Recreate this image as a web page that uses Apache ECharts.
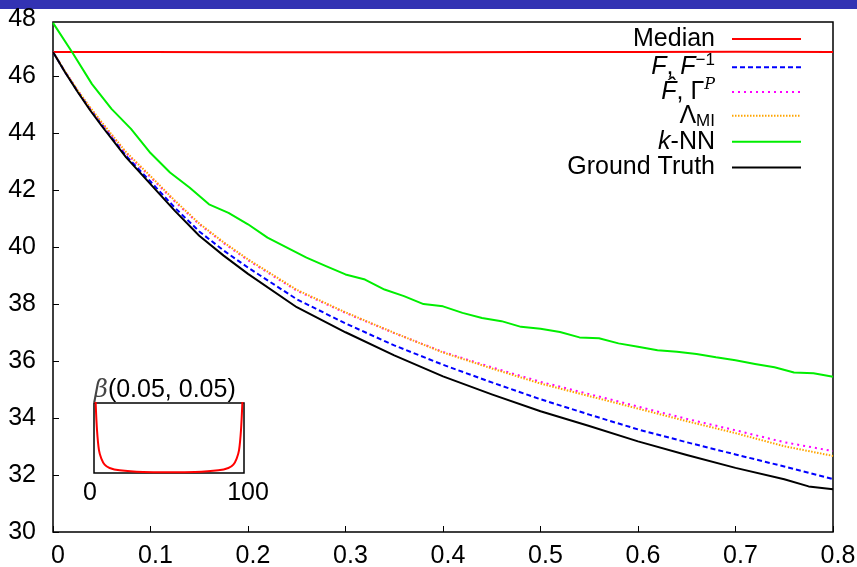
<!DOCTYPE html>
<html><head><meta charset="utf-8">
<script src="https://cdn.jsdelivr.net/npm/echarts@6/dist/echarts.min.js"></script>
<style>html,body{margin:0;padding:0;background:#fff}#c{width:857px;height:567px}</style>
</head><body><div id="c"></div>
<script>
// ---- data ----
const xTickLabels = ['0','0.1','0.2','0.3','0.4','0.5','0.6','0.7','0.8'];
const yTickLabels = ['30','32','34','36','38','40','42','44','46','48'];
const seriesNames = ['Median','F, F^-1','F^, Gamma^P','Lambda_MI','k-NN','Ground Truth'];

const medianX = [0,0.1,0.2,0.3,0.4,0.5,0.6,0.7,0.8];
const medianY = [46.85,46.85,46.84,46.84,46.84,46.85,46.85,46.86,46.85];

const estX = [0,0.0125,0.025,0.0375,0.05,0.075,0.1,0.125,0.15,0.175,0.2,0.25,0.3,0.35,0.4,0.45,0.5,0.55,0.6,0.65,0.7,0.75,0.8];
const invY = [46.85,46.14,45.48,44.87,44.3,43.2,42.3,41.38,40.55,39.88,39.28,38.17,37.32,36.55,35.87,35.25,34.66,34.12,33.6,33.15,32.72,32.3,31.86];
const gammaY = [46.85,46.15,45.5,44.9,44.35,43.3,42.46,41.6,40.8,40.14,39.54,38.47,37.69,36.98,36.32,35.78,35.27,34.84,34.4,33.97,33.57,33.15,32.84];
const lambdaY = [46.85,46.16,45.52,44.93,44.38,43.33,42.49,41.63,40.83,40.17,39.57,38.5,37.71,36.99,36.3,35.74,35.21,34.77,34.33,33.89,33.47,33.01,32.67];

const truthX = [0,0.0125,0.025,0.0375,0.05,0.075,0.1,0.125,0.15,0.175,0.2,0.25,0.3,0.35,0.4,0.45,0.5,0.55,0.6,0.65,0.7,0.75,0.775,0.8];
const truthY = [46.85,46.13,45.46,44.83,44.25,43.15,42.21,41.27,40.40,39.7,39.06,37.89,37.01,36.20,35.46,34.83,34.24,33.72,33.18,32.7,32.25,31.85,31.6,31.5];

const knnX = [0,0.02,0.04,0.06,0.08,0.1,0.12,0.14,0.16,0.18,0.2,0.22,0.24,0.26,0.28,0.3,0.32,0.34,0.36,0.38,0.4,0.42,0.44,0.46,0.48,0.5,0.52,0.54,0.56,0.58,0.6,0.62,0.64,0.66,0.68,0.7,0.72,0.74,0.76,0.78,0.8];
const knnY = [47.87,46.82,45.72,44.85,44.15,43.3,42.62,42.09,41.5,41.2,40.8,40.33,39.98,39.63,39.33,39.04,38.86,38.51,38.28,38.0,37.92,37.69,37.51,37.4,37.2,37.13,37.02,36.83,36.8,36.62,36.5,36.38,36.33,36.25,36.13,36.03,35.9,35.78,35.6,35.57,35.45];

const insetTitle = '(0.05, 0.05)';
const insetX = [0.4,1.1,2,3.3,4.9,7.1,10.4,17.1,32.7,50,67.3,82.9,89.6,92.9,95.1,96.7,98,98.9,99.6];
const insetY = [14,10,6.15,3.27,2.07,1.2,0.72,0.38,0.14,0.1,0.14,0.38,0.72,1.2,2.07,3.27,6.15,10,14];

// ---- chart ----
const zip = (xs, ys) => xs.map((x, i) => [x, ys[i]]);
const SANS = 'Liberation Sans';
const FS = 25;

const richLabels = [
  '{n|Median}{p| }',
  '{i|F}{n|, }{i|F}{sup|\u22121}{p| }',
  '{i|F\u0302}{n|, \u0393}{supi|P}{p| }',
  '{n|\u039B}{sub|MI}{p| }',
  '{i|k}{n|-NN}{p| }',
  '{n|Ground Truth}{p| }'
];
const rich = {
  n: {fontFamily: SANS, fontSize: FS, color: '#000'},
  i: {fontFamily: SANS, fontSize: FS, fontStyle: 'italic', color: '#000'},
  sup: {fontFamily: SANS, fontSize: 17, color: '#000', padding: [0,0,14,0]},
  supi: {fontFamily: 'DejaVu Serif', fontSize: 16, fontStyle: 'italic', color: '#000', padding: [0,0,14,0]},
  sub: {fontFamily: SANS, fontSize: 17, color: '#000', padding: [12,0,0,0]},
  p: {fontSize: FS, width: 12}
};
const rowCenters = [41.5, 66.7, 92, 118.3, 144.3, 170];

const legends = seriesNames.map((nm, i) => ({
  data: [nm],
  orient: 'vertical',
  align: 'right',
  right: 55,
  top: rowCenters[i] - 15,
  padding: 0,
  itemWidth: 69,
  itemHeight: 30,
  selectedMode: false,
  itemStyle: {opacity: 0},
  formatter: () => richLabels[i],
  textStyle: {fontFamily: SANS, fontSize: FS, color: '#000', rich: rich}
}));

const lineSeries = (name, data, color, width, type) => ({
  name, type: 'line', data, xAxisIndex: 0, yAxisIndex: 0,
  symbol: 'none', smooth: false,
  lineStyle: {color, width, type, cap: 'butt', join: 'round'},
  itemStyle: {color}, animation: false, z: 3
});

const chart = echarts.init(document.getElementById('c'), null, {renderer: 'canvas'});
chart.setOption({
  backgroundColor: '#fff',
  animation: false,
  title: {
    text: '{b|\u03B2}{n|' + insetTitle + '}',
    left: 94, top: 378, padding: 0,
    textStyle: {fontWeight: 'normal', rich: {
      b: {fontFamily: 'DejaVu Serif', fontStyle: 'italic', fontWeight: 'normal', fontSize: 24, color: '#444'},
      n: {fontFamily: SANS, fontWeight: 'normal', fontSize: FS, color: '#000'}
    }}
  },
  legend: legends,
  grid: [
    {left: 53, top: 22, right: 24, bottom: 35, show: true, borderColor: '#000', borderWidth: 1.5, backgroundColor: 'transparent', outerBoundsMode: 'none', containLabel: false},
    {left: 94, top: 403, width: 150, height: 70, show: true, borderColor: '#000', borderWidth: 1.5, backgroundColor: '#fff', outerBoundsMode: 'none', containLabel: false, z: 4}
  ],
  xAxis: [
    {type: 'value', gridIndex: 0, min: 0, max: 0.8, interval: 0.1,
     axisLine: {show: false}, splitLine: {show: false},
     axisTick: {show: true, inside: true, length: 6, lineStyle: {color: '#000', width: 1}},
     axisLabel: {color: '#000', fontFamily: SANS, fontSize: FS, margin: 12, padding: [0,0,0,10],
       formatter: v => xTickLabels[Math.round(v * 10)]}},
    {type: 'value', gridIndex: 1, min: 0, max: 100, interval: 100,
     axisLine: {show: false}, splitLine: {show: false}, axisTick: {show: false},
     axisLabel: {color: '#000', fontFamily: SANS, fontSize: FS, margin: 8, padding: [0,8,0,0],
       formatter: v => (v === 100 ? '{r|' + v + '}' : '' + v),
       rich: {r: {fontFamily: SANS, fontSize: FS, color: '#000', padding: [0,0,0,16]}}}}
  ],
  yAxis: [
    {type: 'value', gridIndex: 0, min: 30, max: 47.9, interval: 2,
     axisLine: {show: false}, splitLine: {show: false},
     axisTick: {show: true, inside: true, length: 6, lineStyle: {color: '#000', width: 1}},
     axisLabel: {color: '#000', fontFamily: SANS, fontSize: FS, margin: 17, showMaxLabel: false,
       formatter: v => yTickLabels[Math.round((v - 30) / 2)]}},
    {type: 'value', gridIndex: 1, min: 0, max: 10, show: false}
  ],
  graphic: [
    {type: 'rect', shape: {x: 0, y: 0, width: 857, height: 9}, style: {fill: '#3333b3'}, z: 10},
    {type: 'text', x: 36, y: 19, style: {text: yTickLabels[9], align: 'right', verticalAlign: 'middle', fontFamily: SANS, fontSize: FS, fill: '#000'}, z: 10}
  ],
  series: [
    lineSeries(seriesNames[0], zip(medianX, medianY), '#ff0000', 2, 'solid'),
    lineSeries(seriesNames[1], zip(estX, invY), '#0000ff', 2, [5, 3]),
    lineSeries(seriesNames[2], zip(estX, gammaY), '#ff00ff', 2, [2, 4]),
    lineSeries(seriesNames[3], zip(estX, lambdaY), '#ffa500', 2, [1.5, 1.5]),
    lineSeries(seriesNames[4], zip(knnX, knnY), '#00ee00', 2, 'solid'),
    lineSeries(seriesNames[5], zip(truthX, truthY), '#000000', 2, 'solid'),
    {type: 'line', xAxisIndex: 1, yAxisIndex: 1, data: zip(insetX, insetY), symbol: 'none', smooth: 0.3,
     lineStyle: {color: '#ff0000', width: 2}, z: 5, silent: true, legendHoverLink: false}
  ]
});
</script></body></html>
